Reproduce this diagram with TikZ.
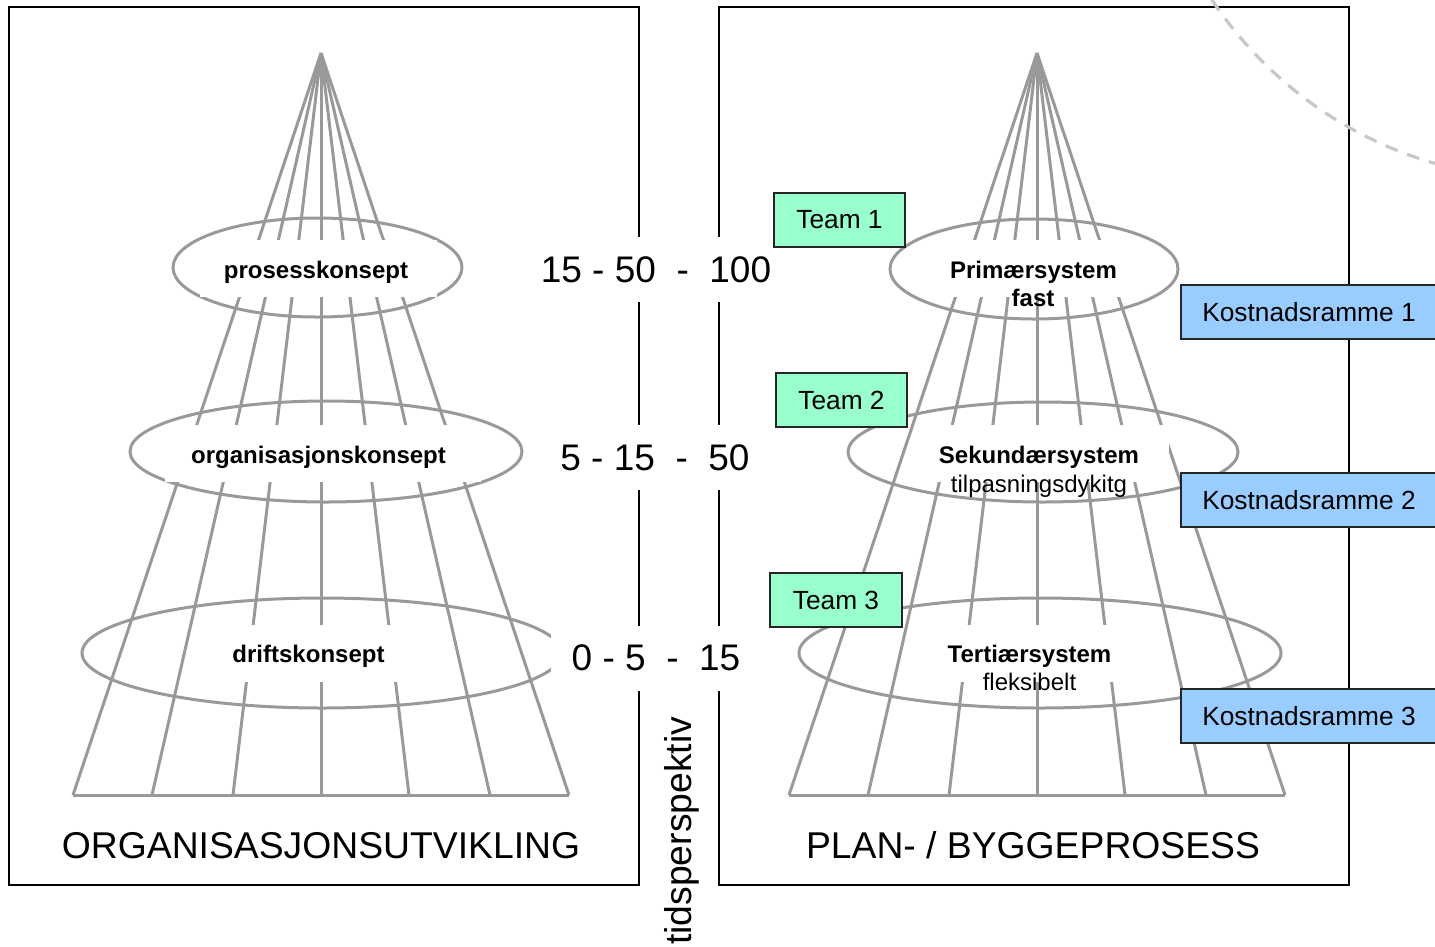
\documentclass[tikz,border=0pt]{standalone}
\usepackage{fontspec}
\setmainfont{Liberation Sans}
\definecolor{conegray}{HTML}{999999}
\definecolor{arcgray}{HTML}{C8C8C8}
\definecolor{teamgreen}{HTML}{99FFCC}
\definecolor{costblue}{HTML}{99CCFF}
\tikzset{
  frame/.style={draw=black, line width=2pt},
  coneline/.style={draw=conegray, line width=3pt},
  ring/.style={draw=conegray, line width=3pt},
  conelabel/.style={font=\fontsize{24}{28}\selectfont\bfseries, anchor=base, inner sep=0pt},
  sublabel/.style={font=\fontsize{24}{28}\selectfont, anchor=base, inner sep=0pt},
  bigtext/.style={font=\fontsize{37.3}{44}\selectfont, anchor=base, inner sep=0pt},
  rangebox/.style={font=\fontsize{37}{44}\selectfont, fill=white, inner sep=0pt, minimum height=65pt},
  tag/.style={draw=black!85, line width=1.8pt, minimum height=54pt, inner sep=0pt,
              font=\fontsize{26.3}{30}\selectfont},
  team/.style={tag, fill=teamgreen, minimum width=131pt},
  cost/.style={tag, fill=costblue, minimum width=256pt},
}
\begin{document}
\begin{tikzpicture}[x=1pt, y=-1pt]
\useasboundingbox (0,0) rectangle (1435,946);
\clip (0,0) rectangle (1435,946);

% two panels
\draw[frame] (9,7) rectangle (639,885);
\draw[frame] (719,7) rectangle (1349,885);

% dashed circle arc in the upper right corner
\draw[arcgray, line width=3.2pt, dash pattern=on 13pt off 10pt] (1546,-222) circle[radius=401pt];

% left cone
\coordinate (apexL) at (321,53);
\foreach \d in {-248,-169,-88,0,88,169,248}
  \draw[coneline] (apexL) -- ({321+\d},795);
\draw[coneline] (73,795) -- (569,795);

% right cone
\coordinate (apexR) at (1037,53);
\foreach \d in {-248,-169,-88,0,88,169,248}
  \draw[coneline] (apexR) -- ({1037+\d},795);
\draw[coneline] (789,795) -- (1285,795);

% rings on the left cone
\draw[ring] (317.5,267.5) ellipse [x radius=144.5pt, y radius=49.5pt];
\draw[ring] (326,451.5) ellipse [x radius=196pt, y radius=50.5pt];
\draw[ring] (322,653) ellipse [x radius=240pt, y radius=55pt];

% rings on the right cone
\draw[ring] (1034,269) ellipse [x radius=144pt, y radius=50pt];
\draw[ring] (1043,452) ellipse [x radius=195pt, y radius=50pt];
\draw[ring] (1040,653) ellipse [x radius=241pt, y radius=55pt];

% white text panes inside the rings
\fill[white] (200,240) rectangle (437,297);
\fill[white] (165,425) rectangle (481,482);
\fill[white] (200,625) rectangle (440,682);
\fill[white] (940,240) rectangle (1130,297);
\fill[white] (920,425) rectangle (1169,482);
\fill[white] (935,625) rectangle (1135,682);

% ring labels, left
\node[conelabel] (proc) at (316,278) {prosesskonsept};
\node[conelabel] (org) at (318.5,463) {organisasjonskonsept};
\node[conelabel] (drift) at (308.5,662) {driftskonsept};

% ring labels, right
\node[conelabel] (prim) at (1033.5,278) {Primærsystem};
\node[conelabel] (primsub) at (1033,306) {fast};
\node[conelabel] (sek) at (1039,463) {Sekundærsystem};
\node[sublabel] (seksub) at (1039,492) {tilpasningsdykitg};
\node[conelabel] (ter) at (1029.5,662) {Tertiærsystem};
\node[sublabel] (tersub) at (1029.5,690) {fleksibelt};

% time ranges between the panels
\node[rangebox, minimum width=260pt] (r1) at (656,269.5) {15 - 50\ \ -\ \ 100};
\node[rangebox, minimum width=230pt] (r2) at (655,457.5) {5 - 15\ \ -\ \ 50};
\node[rangebox, minimum width=210pt] (r3) at (656,658) {0 - 5\ \ -\ \ 15};

% teams
\node[team] (t1) at (839.5,220) {Team 1};
\node[team] (t2) at (841.5,400) {Team 2};
\node[team, minimum width=132pt] (t3) at (836,600) {Team 3};

% cost frames
\node[cost] (k1) at (1309,312) {Kostnadsramme 1};
\node[cost] (k2) at (1309,500) {Kostnadsramme 2};
\node[cost] (k3) at (1309,716) {Kostnadsramme 3};

% panel titles
\node[bigtext] (titleL) at (321,858) {ORGANISASJONSUTVIKLING};
\node[bigtext] (titleR) at (1033,858) {PLAN- / BYGGEPROSESS};

% vertical axis caption
\node[bigtext, rotate=90, anchor=base west] (axis) at (691,945) {tidsperspektiv};
\end{tikzpicture}
\end{document}
